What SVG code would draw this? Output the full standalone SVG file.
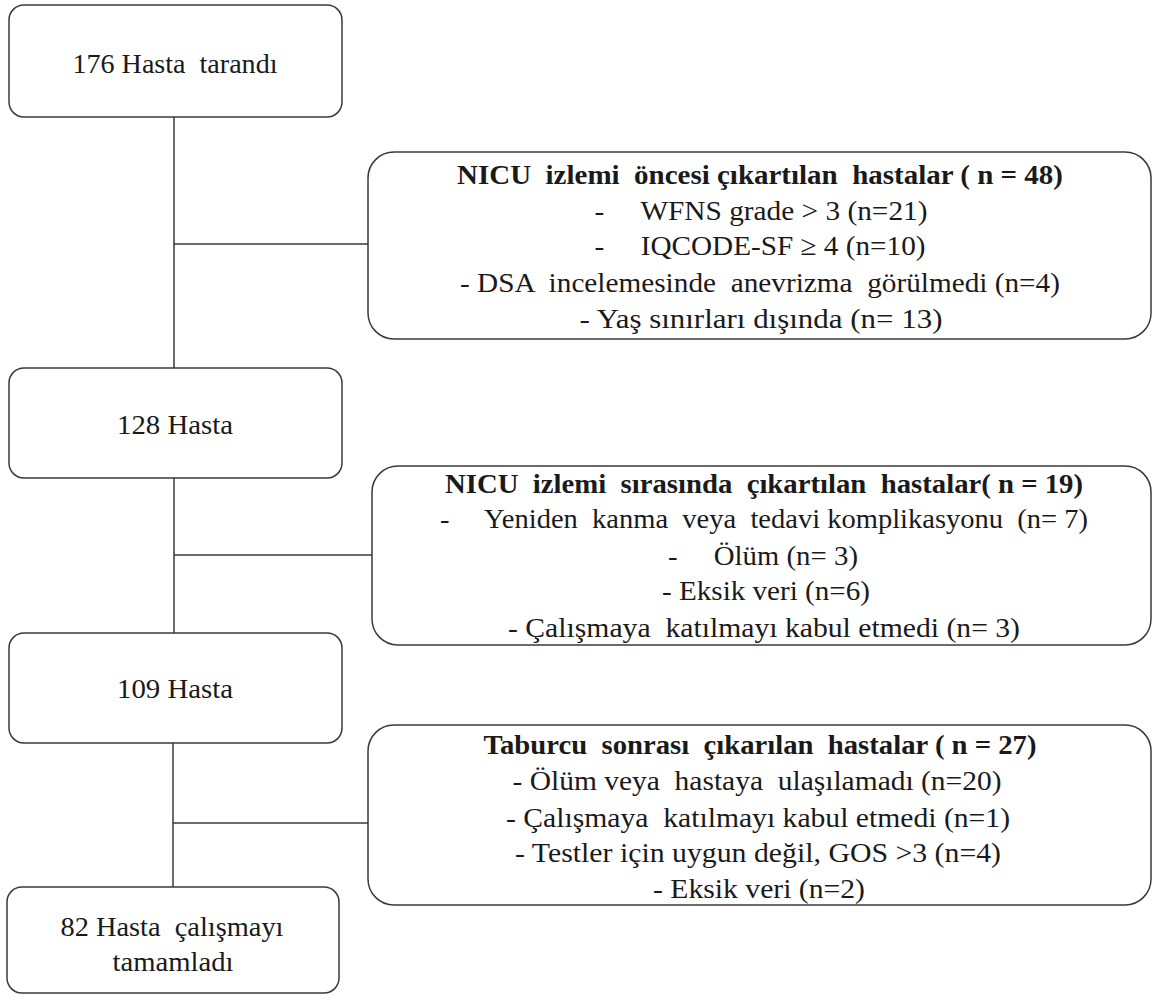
<svg xmlns="http://www.w3.org/2000/svg" width="1153" height="998" viewBox="0 0 1153 998">
<style>
.box{fill:#ffffff;stroke:#3a3a3a;stroke-width:1.5}
.line{stroke:#3a3a3a;stroke-width:1.5;fill:none}
text{font-family:"Liberation Serif","Times New Roman",serif;font-size:28px;fill:#1a1a1a;text-anchor:middle;white-space:pre}
.b{font-weight:bold}
</style>
<rect width="1153" height="998" fill="#ffffff"/>
<g id="connectors">
<line class="line" x1="174" y1="117" x2="174" y2="368"/>
<line class="line" x1="174" y1="244" x2="368" y2="244"/>
<line class="line" x1="174" y1="478" x2="174" y2="633"/>
<line class="line" x1="174" y1="555" x2="372" y2="555"/>
<line class="line" x1="173" y1="743" x2="173" y2="887"/>
<line class="line" x1="173" y1="823" x2="368" y2="823"/>
</g>
<g id="n176">
<rect class="box" x="9" y="5" width="333" height="112" rx="15"/>
<text x="175" y="73" textLength="205" lengthAdjust="spacingAndGlyphs">176 Hasta &#160;tarandı</text>
</g>
<g id="excl1">
<rect class="box" x="368" y="152" width="783" height="187" rx="26"/>
<text class="b" x="760" y="184" textLength="606" lengthAdjust="spacingAndGlyphs">NICU &#160;izlemi &#160;öncesi çıkartılan &#160;hastalar ( n = 48)</text>
<text x="761" y="220" textLength="333" lengthAdjust="spacingAndGlyphs">-&#160;&#160;&#160;&#160; WFNS grade &gt; 3 (n=21)</text>
<text x="760" y="255" textLength="331" lengthAdjust="spacingAndGlyphs">-&#160;&#160;&#160;&#160; IQCODE-SF ≥ 4 (n=10)</text>
<text x="760" y="292" textLength="600" lengthAdjust="spacingAndGlyphs">- DSA &#160;incelemesinde &#160;anevrizma &#160;görülmedi (n=4)</text>
<text x="761" y="328" textLength="363" lengthAdjust="spacingAndGlyphs">- Yaş sınırları dışında (n= 13)</text>
</g>
<g id="n128">
<rect class="box" x="9" y="368" width="333" height="110" rx="15"/>
<text x="175" y="434" textLength="116" lengthAdjust="spacingAndGlyphs">128 Hasta</text>
</g>
<g id="excl2">
<rect class="box" x="372" y="466" width="779" height="179" rx="26"/>
<text class="b" x="764" y="493" textLength="638" lengthAdjust="spacingAndGlyphs">NICU &#160;izlemi &#160;sırasında &#160;çıkartılan &#160;hastalar( n = 19)</text>
<text x="764" y="528" textLength="648" lengthAdjust="spacingAndGlyphs">-&#160;&#160;&#160;&#160; Yeniden &#160;kanma &#160;veya &#160;tedavi komplikasyonu &#160;(n= 7)</text>
<text x="763" y="565" textLength="190" lengthAdjust="spacingAndGlyphs">-&#160;&#160;&#160;&#160; Ölüm (n= 3)</text>
<text x="766" y="600" textLength="208" lengthAdjust="spacingAndGlyphs">- Eksik veri (n=6)</text>
<text x="764" y="637" textLength="512" lengthAdjust="spacingAndGlyphs">- Çalışmaya &#160;katılmayı kabul etmedi (n= 3)</text>
</g>
<g id="n109">
<rect class="box" x="9" y="633" width="333" height="110" rx="15"/>
<text x="175" y="698" textLength="116" lengthAdjust="spacingAndGlyphs">109 Hasta</text>
</g>
<g id="excl3">
<rect class="box" x="368" y="725" width="783" height="180" rx="26"/>
<text class="b" x="760" y="754" textLength="553" lengthAdjust="spacingAndGlyphs">Taburcu &#160;sonrası &#160;çıkarılan &#160;hastalar ( n = 27)</text>
<text x="757" y="790" textLength="489" lengthAdjust="spacingAndGlyphs">- Ölüm veya &#160;hastaya &#160;ulaşılamadı (n=20)</text>
<text x="758" y="827" textLength="504" lengthAdjust="spacingAndGlyphs">- Çalışmaya &#160;katılmayı kabul etmedi (n=1)</text>
<text x="758" y="862" textLength="486" lengthAdjust="spacingAndGlyphs">- Testler için uygun değil, GOS &gt;3 (n=4)</text>
<text x="759" y="898" textLength="212" lengthAdjust="spacingAndGlyphs">- Eksik veri (n=2)</text>
</g>
<g id="n82">
<rect class="box" x="7" y="887" width="332" height="106" rx="15"/>
<text x="172" y="936" textLength="223" lengthAdjust="spacingAndGlyphs">82 Hasta &#160;çalışmayı</text>
<text x="173" y="971" textLength="121" lengthAdjust="spacingAndGlyphs">tamamladı</text>
</g>
</svg>
